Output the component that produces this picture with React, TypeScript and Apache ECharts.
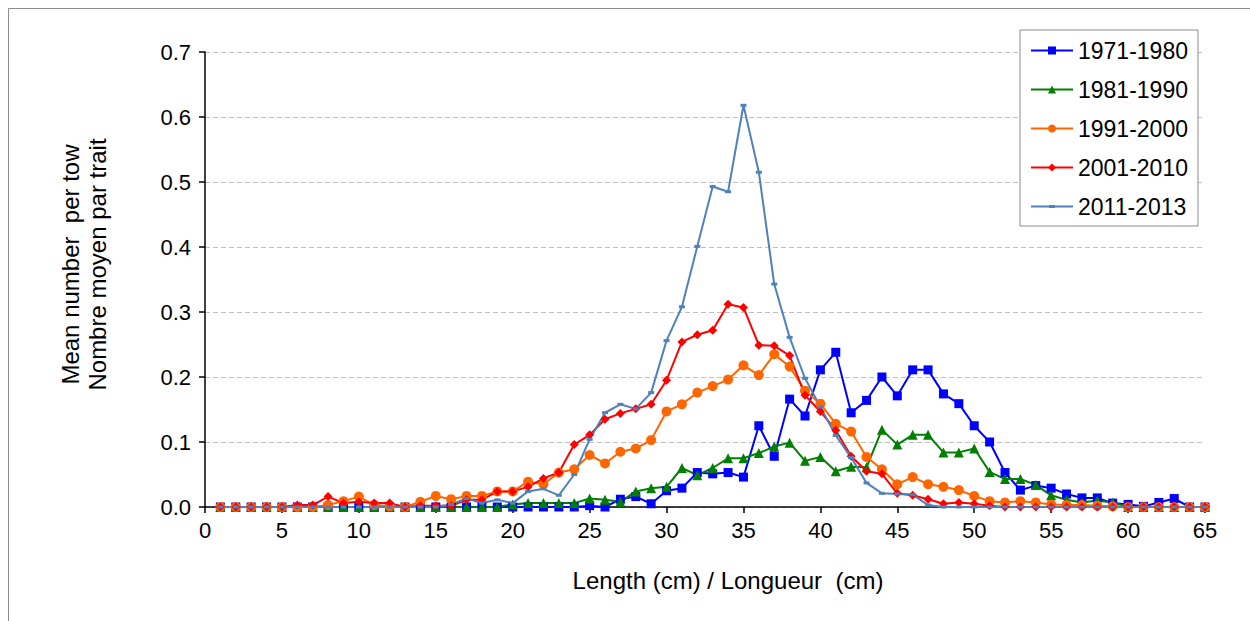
import React, { useEffect, useRef } from "react";
import * as echarts from "echarts";

// Length classes (cm)
const LENGTHS = [
  1, 2, 3, 4, 5, 6, 7, 8, 9, 10, 11, 12, 13, 14, 15, 16, 17, 18, 19, 20,
  21, 22, 23, 24, 25, 26, 27, 28, 29, 30, 31, 32, 33, 34, 35, 36, 37, 38, 39, 40,
  41, 42, 43, 44, 45, 46, 47, 48, 49, 50, 51, 52, 53, 54, 55, 56, 57, 58, 59, 60,
  61, 62, 63, 64, 65,
];

const SERIES_NAMES = ["1971-1980", "1981-1990", "1991-2000", "2001-2010", "2011-2013"];

const V_1971_1980 = [
  0, 0, 0, 0, 0, 0, 0, 0, 0, 0, 0, 0, 0, 0, 0, 0, 0, 0, 0, 0,
  0, 0, 0, 0, 0.002, 0, 0.012, 0.016, 0.005, 0.025, 0.029, 0.053, 0.051, 0.053, 0.046, 0.125, 0.078, 0.166, 0.14, 0.211,
  0.238, 0.145, 0.164, 0.2, 0.171, 0.211, 0.211, 0.174, 0.159, 0.125, 0.1, 0.053, 0.026, 0.033, 0.029, 0.02, 0.014, 0.014, 0.006, 0.004,
  0.001, 0.007, 0.013, 0, 0,
];

const V_1981_1990 = [
  0, 0, 0, 0, 0, 0, 0, 0, 0, 0, 0, 0, 0, 0, 0, 0, 0, 0, 0, 0.004,
  0.006, 0.006, 0.006, 0.006, 0.013, 0.011, 0.008, 0.024, 0.029, 0.031, 0.06, 0.049, 0.06, 0.075, 0.075, 0.083, 0.093, 0.099, 0.071, 0.077,
  0.055, 0.062, 0.061, 0.119, 0.096, 0.111, 0.111, 0.084, 0.084, 0.09, 0.054, 0.043, 0.043, 0.034, 0.018, 0.011, 0.007, 0.01, 0.007, 0,
  0, 0, 0, 0, 0,
];

const V_1991_2000 = [
  0, 0, 0, 0, 0, 0, 0, 0.003, 0.009, 0.016, 0.003, 0.001, 0, 0.008, 0.017, 0.012, 0.017, 0.017, 0.024, 0.024,
  0.039, 0.035, 0.053, 0.058, 0.08, 0.067, 0.085, 0.09, 0.103, 0.147, 0.158, 0.176, 0.186, 0.196, 0.218, 0.203, 0.235, 0.216, 0.179, 0.159,
  0.128, 0.116, 0.077, 0.058, 0.035, 0.046, 0.035, 0.031, 0.026, 0.017, 0.009, 0.007, 0.009, 0.007, 0.004, 0.003, 0.003, 0.002, 0.001, 0,
  0, 0, 0, 0, 0,
];

const V_2001_2010 = [
  0, 0, 0, 0, 0, 0.003, 0.003, 0.016, 0.006, 0.008, 0.006, 0.006, 0, 0.002, 0.002, 0.002, 0.011, 0.011, 0.024, 0.024,
  0.031, 0.044, 0.053, 0.096, 0.111, 0.135, 0.144, 0.151, 0.158, 0.195, 0.254, 0.265, 0.272, 0.312, 0.307, 0.249, 0.248, 0.233, 0.172, 0.147,
  0.118, 0.078, 0.055, 0.051, 0.021, 0.018, 0.012, 0.005, 0.007, 0.005, 0.002, 0, 0, 0, 0, 0, 0, 0, 0, 0,
  0, 0, 0, 0, 0,
];

const V_2011_2013 = [
  0, 0, 0, 0, 0, 0, 0, 0, 0, 0, 0, 0, 0, 0, 0, 0.004, 0.013, 0.006, 0.011, 0.006,
  0.024, 0.028, 0.018, 0.05, 0.104, 0.145, 0.158, 0.151, 0.176, 0.256, 0.308, 0.401, 0.493, 0.485, 0.618, 0.515, 0.343, 0.261, 0.198, 0.154,
  0.11, 0.076, 0.037, 0.021, 0.02, 0.019, 0.003, 0, 0, 0, 0, 0, 0, 0, 0, 0, 0, 0, 0, 0,
  0, 0, 0, 0, 0,
];

const VALUES = [V_1971_1980, V_1981_1990, V_1991_2000, V_2001_2010, V_2011_2013];
const COLORS = ["#0000FF", "#008000", "#FF6600", "#FF0000", "#4F81BD"];
const SYMBOLS = ["rect", "triangle", "circle", "diamond", "rect"];
const SYMBOL_SIZES: any[] = [9, 10, 10, 9, [6, 3]];

const FONT = "'Liberation Sans', Arial, sans-serif";
const LEGEND_FONT = 23;

// legend icon for the last series: a line with a small dash marker (42 x 3 box)
const DASH_ICON = "path://M0,0.5 L42,0.5 L42,2.5 L0,2.5 Z M18,0 L24,0 L24,3 L18,3 Z";

export default function App() {
  const ref = useRef<HTMLDivElement>(null);

  useEffect(() => {
    if (!ref.current) return;
    const chart = echarts.init(ref.current, undefined, { renderer: "svg" });

    const series = SERIES_NAMES.map((name, i) => ({
      name,
      type: "line",
      data: LENGTHS.map((x, j) => [x, VALUES[i][j]]),
      symbol: SYMBOLS[i],
      symbolSize: SYMBOL_SIZES[i],
      showAllSymbol: true,
      lineStyle: { color: COLORS[i], width: 2 },
      itemStyle: { color: COLORS[i], borderWidth: 0 },
      emphasis: { disabled: true },
    }));

    chart.setOption({
      animation: false,
      textStyle: { fontFamily: FONT },
      graphic: [
        {
          type: "rect",
          silent: true,
          shape: { x: 8.5, y: 8.5, width: 1400, height: 800 },
          style: { fill: "none", stroke: "#8c8c8c", lineWidth: 1 },
        },
      ],
      grid: { left: 205, right: 45, top: 52, bottom: 114, containLabel: false },
      legend: {
        orient: "vertical",
        left: 1020,
        top: 30,
        padding: [9, 10, 8, 10],
        itemWidth: 42,
        itemHeight: 10,
        itemGap: 39 - LEGEND_FONT,
        borderColor: "#8c8c8c",
        borderWidth: 1,
        backgroundColor: "#fff",
        textStyle: { fontFamily: FONT, fontSize: LEGEND_FONT, color: "#000" },
        data: SERIES_NAMES.map((n, i) => (i === 4 ? { name: n, icon: DASH_ICON } : { name: n })),
      },
      xAxis: {
        type: "value",
        min: 0,
        max: 65,
        interval: 5,
        name: "Length (cm) / Longueur  (cm)",
        nameLocation: "middle",
        nameGap: 61,
        nameTextStyle: { fontFamily: FONT, fontSize: 24, color: "#000", padding: [0, 0, 0, 46] },
        axisLine: { show: true, lineStyle: { color: "#000", width: 1.5 } },
        axisTick: { show: true, inside: false, length: 6, lineStyle: { color: "#000", width: 1.5 } },
        axisLabel: { fontFamily: FONT, fontSize: 22, color: "#000", margin: 12 },
        splitLine: { show: false },
      },
      yAxis: {
        type: "value",
        min: 0,
        max: 0.7,
        interval: 0.1,
        name: "Mean number  per tow\nNombre moyen par trait",
        nameLocation: "middle",
        nameGap: 94,
        nameRotate: 90,
        nameTextStyle: { fontFamily: FONT, fontSize: 24, color: "#000", lineHeight: 27, padding: [0, 0, 0, 30] },
        axisLine: { show: true, lineStyle: { color: "#000", width: 1.5 } },
        axisTick: { show: true, inside: false, length: 6, lineStyle: { color: "#000", width: 1.5 } },
        axisLabel: {
          fontFamily: FONT,
          fontSize: 22,
          color: "#000",
          margin: 14,
          formatter: (v: number) => v.toFixed(1),
        },
        splitLine: { show: true, lineStyle: { color: "#BFBFBF", type: [5, 3], width: 1 } },
      },
      series,
    });

    return () => chart.dispose();
  }, []);

  return (
    <div
      ref={ref}
      style={{ position: "fixed", left: 0, top: 0, width: 1250, height: 621, background: "#fff" }}
    />
  );
}
